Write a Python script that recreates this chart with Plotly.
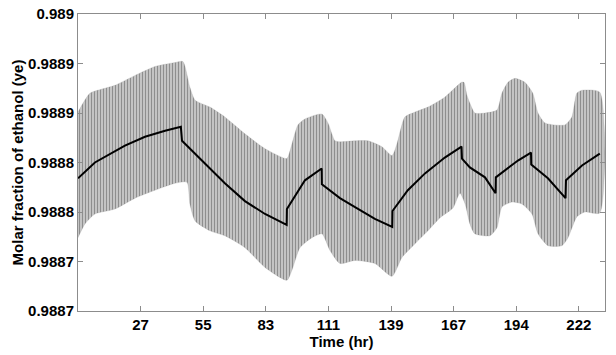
import plotly.graph_objects as go

# Mean trajectory (time in hr, molar fraction)
mean_t = [0, 7.5, 20.8, 29.7, 38.6, 45.6, 46.1, 56.3, 65.1, 74.0, 82.9, 92.5, 92.6,
          100.6, 108.0, 108.1, 116.1, 122.8, 131.6, 139.3, 139.4, 146.2, 153.8, 162.6,
          170.0, 170.2, 173.7, 180.4, 185.1, 185.2, 189.2, 195.0, 200.8, 200.9, 208.3,
          216.1, 216.3, 223.4, 231.3]
mean_y = [0.988834, 0.988850, 0.988867, 0.988876, 0.988882, 0.988886, 0.988872, 0.988849,
          0.988829, 0.988811, 0.988798, 0.988787, 0.988803, 0.988832, 0.988844, 0.988828,
          0.988814, 0.988805, 0.988793, 0.988785, 0.988801, 0.988822, 0.988839, 0.988855,
          0.988866, 0.988854, 0.988845, 0.988835, 0.988819, 0.988835, 0.988842, 0.988852,
          0.988860, 0.988848, 0.988834, 0.988814, 0.988832, 0.988847, 0.988859]

# Upper envelope of the uncertainty band
upper_t = [0, 5.3, 12.0, 16.4, 25.3, 34.1, 43.0, 46.5, 49.6, 51.9, 58.5, 65.1, 74.0, 82.9,
           92.6, 94.0, 97.5, 100.6, 108.1, 110.8, 113.9, 116.1, 122.8, 128.5, 134.7, 139.2,
           141.4, 144.9, 149.4, 155.1, 162.6, 170.0, 171.1, 172.4, 173.7, 175.9, 180.4,
           185.7, 187.9, 190.6, 193.7, 198.1, 201.6, 203.9, 207.0, 215.8, 218.9, 221.1,
           223.4, 231.3]
upper_y = [0.988901, 0.988920, 0.988925, 0.988928, 0.988938, 0.988947, 0.988951, 0.988952,
           0.988926, 0.988913, 0.988906, 0.988896, 0.988879, 0.988864, 0.988854, 0.988862,
           0.988888, 0.988894, 0.988899, 0.988890, 0.988872, 0.988871, 0.988872, 0.988872,
           0.988866, 0.988857, 0.988869, 0.988896, 0.988901, 0.988906, 0.988916, 0.988931,
           0.988931, 0.988918, 0.988910, 0.988900, 0.988900, 0.988903, 0.988920, 0.988931,
           0.988935, 0.988931, 0.988920, 0.988900, 0.988890, 0.988888, 0.988896, 0.988920,
           0.988923, 0.988921]

# Lower envelope of the uncertainty band
lower_t = [0, 3.1, 7.5, 16.4, 25.3, 34.1, 43.0, 48.3, 49.6, 51.9, 58.5, 65.1, 74.0, 82.9,
           92.6, 94.8, 98.4, 103.7, 108.1, 111.7, 116.1, 122.8, 131.6, 139.2, 143.6, 149.4,
           155.1, 160.4, 166.2, 169.3, 171.6, 173.7, 175.9, 182.6, 185.7, 187.9, 192.3,
           196.8, 201.2, 203.9, 208.3, 214.5, 217.2, 221.1, 224.7, 231.3]
lower_y = [0.988774, 0.988788, 0.988798, 0.988803, 0.988814, 0.988822, 0.988829, 0.988830,
           0.988808, 0.988791, 0.988781, 0.988776, 0.988764, 0.988744, 0.988731, 0.988741,
           0.988764, 0.988774, 0.988778, 0.988761, 0.988748, 0.988751, 0.988748, 0.988735,
           0.988754, 0.988768, 0.988781, 0.988794, 0.988804, 0.988819, 0.988808, 0.988788,
           0.988778, 0.988776, 0.988784, 0.988805, 0.988810, 0.988808, 0.988798, 0.988778,
           0.988766, 0.988766, 0.988774, 0.988795, 0.988800, 0.988799]

x_tickvals = [27.75, 55.5, 83.25, 111.0, 138.75, 166.5, 194.25, 222.0]
x_ticktext = ["27", "55", "83", "111", "139", "167", "194", "222"]
y_tickvals = [0.98870, 0.98875, 0.98880, 0.98885, 0.98890, 0.98895, 0.98900]
y_ticktext = ["0.9887", "0.9887", "0.9888", "0.9888", "0.9889", "0.9889", "0.989"]

band_x = upper_t + lower_t[::-1]
band_y = upper_y + lower_y[::-1]

fig = go.Figure()
fig.add_trace(go.Scatter(
    x=band_x, y=band_y, mode="lines", fill="toself",
    line=dict(color="rgba(140,140,140,0.4)", width=0.5, shape="spline", smoothing=0.6),
    fillcolor="rgba(255,255,255,0)",
    fillpattern=dict(shape="|", fgcolor="#505050", bgcolor="#cccccc", size=3, solidity=0.42),
    hoverinfo="skip", showlegend=False))
fig.add_trace(go.Scatter(
    x=mean_t, y=mean_y, mode="lines",
    line=dict(color="black", width=2), showlegend=False))

tfont = dict(size=15, family="Liberation Sans, Arial, sans-serif", color="black", weight="bold")
fig.update_layout(
    width=616, height=355,
    margin=dict(l=78, r=11, t=14, b=44),
    paper_bgcolor="white", plot_bgcolor="white",
    font=dict(family="Liberation Sans, Arial, sans-serif", size=15, color="black"),
    xaxis=dict(range=[0, 233.6], tickvals=x_tickvals, ticktext=x_ticktext,
               automargin=False,
               showgrid=False, zeroline=False, showline=True, linecolor="#8c8c8c",
               linewidth=1, mirror="ticks", ticks="inside", ticklen=5,
               tickcolor="#8c8c8c", tickfont=tfont,
               title=dict(text="Time (hr)", standoff=0, font=tfont)),
    yaxis=dict(range=[0.98870, 0.98900], tickvals=y_tickvals, ticktext=y_ticktext,
               automargin=False,
               showgrid=False, zeroline=False, showline=True, linecolor="#8c8c8c",
               linewidth=1, mirror="ticks", ticks="inside", ticklen=5,
               tickcolor="#8c8c8c", tickfont=tfont,
               title=dict(text="Molar fraction of ethanol (ye)", standoff=0, font=tfont)),
)
fig.write_html("out.html", config={"displayModeBar": False},
               post_script="document.body.style.margin='0';")
